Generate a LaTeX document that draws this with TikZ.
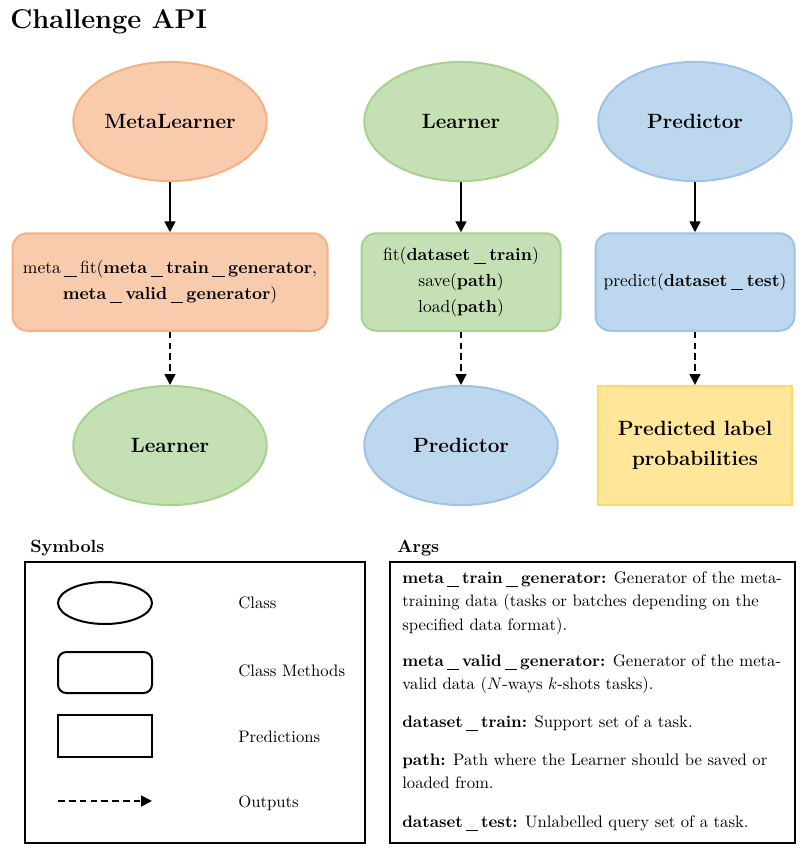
\documentclass[tikz,border=0pt]{standalone}
\usepackage{amsmath}
\usepackage{xcolor}
\usepackage{tikz}
\usetikzlibrary{shapes,arrows.meta}

\definecolor{orangefill}{HTML}{F8CBAD}
\definecolor{orangeline}{HTML}{F4B183}
\definecolor{greenfill}{HTML}{C5E0B4}
\definecolor{greenline}{HTML}{A9D18E}
\definecolor{bluefill}{HTML}{BDD7EE}
\definecolor{blueline}{HTML}{9DC3E6}
\definecolor{yellowfill}{HTML}{FFE699}
\definecolor{yellowline}{HTML}{FFD966}

\newcommand{\us}{\kern.2em\rule[-2pt]{.7em}{.5pt}\kern.2em}

\begin{document}
\begin{tikzpicture}[x=0.6pt, y=-0.6pt,
	classnode/.style={ellipse, inner sep=0pt, line width=1.2pt, minimum width=116pt, minimum height=71.5pt, font=\fontsize{12.4}{15}\bfseries},
	methodnode/.style={rectangle, rounded corners=9pt, line width=1.2pt, minimum height=58.5pt, align=center, font=\fontsize{10.5}{15.5}\selectfont},
	callarrow/.style={-{Triangle[length=6.5pt,width=6.5pt]}, line width=1.1pt},
	outarrow/.style={callarrow, dash pattern=on 4pt off 2.5pt},
	argtext/.style={anchor=base west, inner sep=0pt, align=left, font=\fontsize{10}{14.1}\selectfont},
	legendtext/.style={anchor=base west, inner sep=0pt}]
	\useasboundingbox (0,0) rectangle (811,856);

	\node [anchor=base west, inner sep=0pt, font=\fontsize{16.3}{20}\bfseries] (title) at (10,28) {Challenge API};

	% classes
	\node [classnode, fill=orangefill, draw=orangeline] (metalearner) at (170,121.5) {MetaLearner};
	\node [classnode, fill=greenfill, draw=greenline] (learner) at (461,121.5) {Learner};
	\node [classnode, fill=bluefill, draw=blueline] (predictor) at (695,121.5) {Predictor};

	% methods
	\node [methodnode, fill=orangefill, draw=orangeline, minimum width=189pt] (metafit) at (170,282)
		{meta\us fit(\textbf{meta\us train\us generator},\\\textbf{meta\us valid\us generator})};
	\node [methodnode, fill=greenfill, draw=greenline, minimum width=119.4pt] (fit) at (461,282)
		{fit(\textbf{dataset\us train})\\save(\textbf{path})\\load(\textbf{path})};
	\node [methodnode, fill=bluefill, draw=blueline, minimum width=119.4pt] (predict) at (695,282)
		{predict(\textbf{dataset\us test})};

	% outputs
	\node [classnode, fill=greenfill, draw=greenline] (outlearner) at (170,445.5) {Learner};
	\node [classnode, fill=bluefill, draw=blueline] (outpredictor) at (461,445.5) {Predictor};
	\node [rectangle, fill=yellowfill, draw=yellowline, line width=1.2pt, minimum width=116pt, minimum height=71.5pt,
		align=center, font=\fontsize{12.4}{15}\bfseries] (probas) at (695,445.5) {Predicted label\\[3pt]probabilities};

	\draw [callarrow] (metalearner) -- (metafit);
	\draw [callarrow] (learner) -- (fit);
	\draw [callarrow] (predictor) -- (predict);
	\draw [outarrow] (metafit) -- (outlearner);
	\draw [outarrow] (fit) -- (outpredictor);
	\draw [outarrow] (predict) -- (probas);

	% symbols
	\node [legendtext, font=\fontsize{10.6}{13}\bfseries] (symhead) at (30,552) {Symbols};
	\draw [line width=0.7pt] (25,562) rectangle (365,843);
	\node [ellipse, draw, line width=1.2pt, minimum width=56.4pt, minimum height=25.2pt] (symclass) at (105,603) {};
	\node [rectangle, rounded corners=5pt, draw, line width=1.2pt, minimum width=56.4pt, minimum height=24.6pt] (symmethod) at (105,672.5) {};
	\node [rectangle, draw, line width=1.2pt, minimum width=56.4pt, minimum height=25.2pt] (sympred) at (105,736) {};
	\coordinate (symoutstart) at (58,801);
	\coordinate (symoutend) at (152,801);
	\draw [outarrow] (symoutstart) -- (symoutend);
	\node [legendtext] (lclass) at (238,608) {Class};
	\node [legendtext] (lmethod) at (238,676) {Class Methods};
	\node [legendtext] (lpred) at (238,742) {Predictions};
	\node [legendtext] (lout) at (238,807) {Outputs};

	% args (base = last line)
	\node [legendtext, font=\fontsize{10.6}{13}\bfseries] (arghead) at (397,552) {Args};
	\draw [line width=0.7pt] (390,562) rectangle (795,843);
	\node [argtext] (argtrain) at (402,630)
		{\textbf{meta\us train\us generator:} Generator of the meta-\\training data (tasks or batches depending on the\\specified data format).};
	\node [argtext] (argvalid) at (402,689.5)
		{\textbf{meta\us valid\us generator:} Generator of the meta-\\valid data ($N$-ways $k$-shots tasks).};
	\node [argtext] (argdtrain) at (402,727) {\textbf{dataset\us train:} Support set of a task.};
	\node [argtext] (argpath) at (402,788.5)
		{\textbf{path:} Path where the Learner should be saved or\\loaded from.};
	\node [argtext] (argdtest) at (402,827) {\textbf{dataset\us test:} Unlabelled query set of a task.};
\end{tikzpicture}
\end{document}
